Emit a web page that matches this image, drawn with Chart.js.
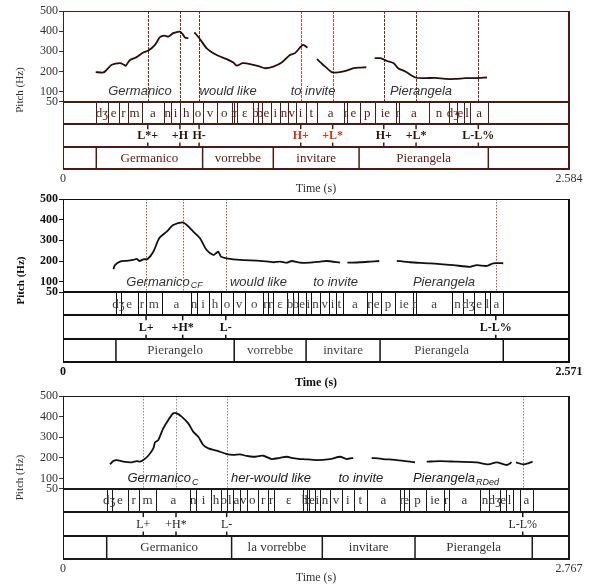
<!DOCTYPE html>
<html><head><meta charset="utf-8">
<script src="https://cdn.jsdelivr.net/npm/chart.js@4.4.0/dist/chart.umd.min.js"></script>
<style>
html,body{margin:0;padding:0;background:#fff;width:589px;height:585px;overflow:hidden}
.p{position:absolute;left:0;width:589px}
</style></head><body>
<div class="p" style="top:0;height:196px"><canvas id="c1"></canvas></div>
<div class="p" style="top:190px;height:200px"><canvas id="c2"></canvas></div>
<div class="p" style="top:385px;height:200px"><canvas id="c3"></canvas></div>
<script>
// ---------- Panel 1 data ----------
const p1Time = [0.167,0.206,0.220,0.249,0.291,0.312,0.320,0.342,0.376,0.410,0.436,0.470,0.495,0.517,0.538,0.563,0.597,0.611,0.623,0.640,0.655,
  0.671,0.700,0.734,0.785,0.836,0.870,0.887,0.918,0.972,1.006,1.032,1.074,1.117,1.159,1.185,1.214,1.227,1.248,1.270,
  1.297,1.339,1.377,1.433,1.485,1.510,1.549,1.570,
  1.592,1.620,1.655,1.689,1.711,1.748,1.799,1.850,1.901,1.952,2.003,2.054,2.106,2.165];
const p1Hz = [197,195,205,233,241,233,228,257,271,294,304,332,370,378,373,390,398,385,368,365,null,
  394,360,315,282,261,244,229,241,233,224,216,224,244,282,291,323,332,318,null,
  261,224,195,200,216,219,221,null,
  266,266,252,241,216,200,170,167,168,163,163,167,167,170];
const p1SegT = [0.169,0.228,0.288,0.330,0.402,0.517,0.552,0.597,0.662,0.716,0.785,0.862,0.875,0.887,0.969,0.996,1.016,1.061,1.108,1.149,1.188,1.239,1.297,1.437,1.450,1.515,1.592,1.701,1.717,1.868,1.973,2.010,2.049,2.078,2.172];
const p1Seg = ['dʒ','e','r','m','a','n','i','h','o','v','o','r','r','ɛ','b','b','e','i','n','v','i','t','a','r','e','p','ie','r','a','n','dʒ','e','l','a'];
const p1WordT = [0.170,0.713,1.074,1.512,2.172];
const p1Words = ['Germanico','vorrebbe','invitare','Pierangela'];
const p1ToneT = [0.433,0.597,0.695,1.214,1.377,1.638,1.803,2.121];
const p1Tones = ['L*+','+H','H-','H+','+L*','H+','+L*','L-L%'];
const p1Gloss = ['Germanico','would like','to invite','Pierangela'];
const p1GlossSub = ['','','',''];
const p1GlossT = [0.393,0.843,1.277,1.828];

// ---------- Panel 2 data ----------
const p2Time = [0.256,0.264,0.290,0.324,0.357,0.374,0.388,0.408,0.430,0.459,0.489,0.527,0.560,0.608,0.629,0.662,0.696,0.730,0.764,0.777,0.789,0.803,0.832,0.899,1.001,1.069,1.103,1.137,1.162,1.204,1.255,1.306,1.340,1.407,1.425,
  1.445,1.509,1.560,1.607,1.650,
  1.696,1.763,1.865,1.983,2.068,2.102,2.153,2.186,2.237];
const p2Hz = [161,180,197,201,205,210,200,208,210,245,310,342,374,387,374,342,310,253,229,237,245,221,213,205,201,194,197,192,200,192,192,197,200,192,null,
  192,194,197,200,null,
  201,194,189,180,172,180,176,189,189];
const p2SegT = [0.269,0.293,0.380,0.422,0.501,0.650,0.681,0.742,0.803,0.864,0.925,1.018,1.040,1.069,1.137,1.170,1.196,1.233,1.259,1.306,1.353,1.387,1.421,1.545,1.570,1.616,1.687,1.778,1.794,1.977,2.032,2.087,2.143,2.168,2.236];
const p2Seg = ['dʒ','e','r','m','a','n','i','h','o','v','o','r','r','ɛ','b','b','e','i','n','v','i','t','a','r','e','p','ie','r','a','n','dʒ','e','l','a'];
const p2WordT = [0.269,0.870,1.235,1.611,2.237];
const p2Words = ['Pierangelo','vorrebbe','invitare','Pierangela'];
const p2ToneT = [0.422,0.608,0.827,2.199];
const p2Tones = ['L+','+H*','L-','L-L%'];
const p2Gloss = ['Germanico','would like','to invite','Pierangela'];
const p2GlossSub = ['CF','','',''];
const p2GlossT = [0.516,0.993,1.385,1.936];

// ---------- Panel 3 data ----------
const p3Time = [0.257,0.275,0.294,0.330,0.376,0.403,0.421,0.439,0.466,0.494,0.503,0.521,0.548,0.576,0.603,0.622,0.649,0.685,0.712,0.740,0.767,0.795,0.840,0.895,0.931,0.968,1.004,1.041,1.095,1.141,1.187,1.223,1.259,1.296,1.314,1.387,1.460,1.515,1.551,1.587,1.640,
  1.688,1.751,1.825,1.925,1.960,
  1.989,2.061,2.153,2.262,2.326,2.371,2.426,2.453,2.465,
  2.477,2.517,2.544,2.568];
const p3Hz = [168,184,189,181,178,184,181,189,210,246,275,286,343,384,416,416,400,367,327,302,262,246,235,218,214,217,209,205,210,194,200,205,198,194,194,189,194,205,194,200,null,
  200,194,189,178,null,
  181,184,181,178,168,178,165,178,null,
  178,168,173,181];
const p3SegT = [0.239,0.266,0.357,0.417,0.509,0.697,0.727,0.809,0.864,0.895,0.928,0.968,1.004,1.065,1.123,1.154,1.314,1.333,1.347,1.376,1.405,1.460,1.526,1.590,1.662,1.841,1.863,1.890,1.987,2.082,2.109,2.282,2.332,2.390,2.424,2.461,2.501,2.568];
const p3Seg = ['dʒ','e','r','m','a','n','i','h','o','l','a','v','o','r','r','ɛ','b','b','e','i','n','v','i','t','a','r','e','p','ie','r','a','n','dʒ','e','l','','a'];
const p3WordT = [0.239,0.922,1.418,1.925,2.566];
const p3Words = ['Germanico','la vorrebbe','invitare','Pierangela'];
const p3ToneT = [0.439,0.618,0.895,2.514];
const p3Tones = ['L+','+H*','L-','L-L%'];
const p3Gloss = ['Germanico','her-would like','to invite','Pierangela'];
const p3GlossSub = ['C','','','RDed'];
const p3GlossT = [0.547,1.137,1.629,2.149];

const yTicks = [50,100,200,300,400,500];

const SERIF = '"Liberation Serif", "DejaVu Serif", serif';
const SANS = '"Liberation Sans", Arial, sans-serif';

const panels = [
  {id:'c1', H:196, top:11, pitchBottom:101.7, bottom:169, dur:2.584, durLabel:'2.584',
   time:p1Time, hz:p1Hz, segT:p1SegT, seg:p1Seg, wordT:p1WordT, words:p1Words, toneT:p1ToneT, tones:p1Tones,
   gloss:p1Gloss, glossSub:p1GlossSub, glossT:p1GlossT, hl:[3,4], dash:[3,1],
   bold:false, toneBold:true, lineCol:'#2a0e08', border:'#4a1c14', segText:'#5a2016', toneText:'#2e120c', hlText:'#d4361c',
   vline:'#7a2a20', hlLine:'#e2452a', tickCol:'#333', axisText:'#333', glossCol:'#333', titlePad:14},
  {id:'c2', H:200, top:9, pitchBottom:102, bottom:172, dur:2.571, durLabel:'2.571',
   time:p2Time, hz:p2Hz, segT:p2SegT, seg:p2Seg, wordT:p2WordT, words:p2Words, toneT:p2ToneT, tones:p2Tones,
   gloss:p2Gloss, glossSub:p2GlossSub, glossT:p2GlossT, hl:[], dash:[1.5,1.5],
   bold:true, toneBold:true, lineCol:'#111', border:'#111', segText:'#444', toneText:'#111', hlText:'#111',
   vline:'#b84a44', hlLine:'#b84a44', tickCol:'#111', axisText:'#111', glossCol:'#333', titlePad:15},
  {id:'c3', H:200, top:11, pitchBottom:103.7, bottom:174, dur:2.767, durLabel:'2.767',
   time:p3Time, hz:p3Hz, segT:p3SegT, seg:p3Seg, wordT:p3WordT, words:p3Words, toneT:p3ToneT, tones:p3Tones,
   gloss:p3Gloss, glossSub:p3GlossSub, glossT:p3GlossT, hl:[], dash:[1.5,1.5],
   bold:false, toneBold:false, lineCol:'#111', border:'#1a1a1a', segText:'#333', toneText:'#222', hlText:'#222',
   vline:'#8a8a8a', hlLine:'#8a8a8a', tickCol:'#333', axisText:'#333', glossCol:'#222', titlePad:14}
];

function cr(v){ return Math.round(v) + 0.5; }

function makePlugin(P){
  return {
    id:'praat_'+P.id,
    beforeDatasetsDraw(chart){
      const ctx = chart.ctx, a = chart.chartArea, xs = chart.scales.x, ys = chart.scales.y;
      const y50 = ys.getPixelForValue(50);
      ctx.save();
      ctx.lineWidth = 1;
      ctx.setLineDash(P.dash);
      P.toneT.forEach((t,i)=>{
        const x = cr(xs.getPixelForValue(t));
        ctx.strokeStyle = P.hl.includes(i) ? P.hlLine : P.vline;
        ctx.beginPath(); ctx.moveTo(x, a.top); ctx.lineTo(x, y50); ctx.stroke();
      });
      ctx.restore();
    },
    afterDatasetsDraw(chart){
      const ctx = chart.ctx, a = chart.chartArea, xs = chart.scales.x, ys = chart.scales.y;
      const y50 = ys.getPixelForValue(50);
      const rh = (a.bottom - y50)/3;
      const r0 = y50, r1 = y50+rh, r2 = y50+2*rh, r3 = a.bottom;
      ctx.save();
      ctx.strokeStyle = P.border;
      // segment boundaries
      ctx.lineWidth = 1;
      P.segT.forEach(t=>{
        const x = cr(xs.getPixelForValue(t));
        ctx.beginPath(); ctx.moveTo(x, r0); ctx.lineTo(x, r1); ctx.stroke();
      });
      ctx.font = '13px ' + SERIF;
      ctx.fillStyle = P.segText;
      ctx.textAlign = 'center'; ctx.textBaseline = 'middle';
      P.seg.forEach((s,i)=>{
        if(!s) return;
        const x0 = xs.getPixelForValue(P.segT[i]), x1 = xs.getPixelForValue(P.segT[i+1]);
        ctx.fillText(s, (x0+x1)/2, (r0+r1)/2 + 0.5);
      });
      // tone ticks + labels
      ctx.lineWidth = 1.5;
      P.toneT.forEach(t=>{
        const x = xs.getPixelForValue(t);
        ctx.beginPath(); ctx.moveTo(x, r1); ctx.lineTo(x, r1+5); ctx.stroke();
        ctx.beginPath(); ctx.moveTo(x, r2-4); ctx.lineTo(x, r2); ctx.stroke();
      });
      ctx.font = (P.toneBold ? 'bold ' : '') + '12px ' + SERIF;
      P.tones.forEach((s,i)=>{
        ctx.fillStyle = P.hl.includes(i) ? P.hlText : P.toneText;
        ctx.fillText(s, xs.getPixelForValue(P.toneT[i]), (r1+r2)/2 + 0.5);
      });
      // word boundaries + labels
      ctx.lineWidth = 1.5;
      P.wordT.forEach(t=>{
        const x = xs.getPixelForValue(t);
        ctx.beginPath(); ctx.moveTo(x, r2); ctx.lineTo(x, r3); ctx.stroke();
      });
      ctx.font = '13px ' + SERIF;
      ctx.fillStyle = P.segText;
      P.words.forEach((s,i)=>{
        const x0 = xs.getPixelForValue(P.wordT[i]), x1 = xs.getPixelForValue(P.wordT[i+1]);
        ctx.fillText(s, (x0+x1)/2, (r2+r3)/2 + 0.5);
      });
      // horizontal tier lines
      ctx.lineWidth = 2;
      [r0, r1, r2].forEach(y=>{
        ctx.beginPath(); ctx.moveTo(a.left, Math.round(y)); ctx.lineTo(a.right, Math.round(y)); ctx.stroke();
      });
      // frame
      ctx.lineWidth = 1;
      ctx.strokeRect(cr(a.left), cr(a.top), Math.round(a.right - a.left) - 1, Math.round(a.bottom - a.top));
      ctx.lineWidth = 2;
      ctx.beginPath(); ctx.moveTo(Math.round(a.right), a.top); ctx.lineTo(Math.round(a.right), a.bottom+1); ctx.stroke();
      ctx.beginPath(); ctx.moveTo(a.left, Math.round(a.bottom)); ctx.lineTo(a.right+1, Math.round(a.bottom)); ctx.stroke();
      // gloss labels
      ctx.fillStyle = P.glossCol;
      ctx.textAlign = 'left'; ctx.textBaseline = 'alphabetic';
      const fMain = 'italic 13px ' + SANS, fSub = 'italic 9px ' + SANS;
      P.gloss.forEach((s,i)=>{
        ctx.font = fMain; const w1 = ctx.measureText(s).width;
        ctx.font = fSub; const w2 = P.glossSub[i] ? ctx.measureText(P.glossSub[i]).width + 1 : 0;
        const cx = xs.getPixelForValue(P.glossT[i]);
        const x0 = cx - (w1 + w2)/2, yb = y50 - 11 + 4.5;
        ctx.font = fMain; ctx.fillText(s, x0, yb);
        if (P.glossSub[i]) { ctx.font = fSub; ctx.fillText(P.glossSub[i], x0 + w1 + 1, yb + 2.5); }
      });
      ctx.restore();
    }
  };
}

panels.forEach(P=>{
  const ymin = 50 - 450*(P.bottom - P.pitchBottom)/(P.pitchBottom - P.top);
  const fw = P.bold ? 'bold' : 'normal';
  new Chart(document.getElementById(P.id), {
    type:'line',
    data:{ datasets:[{
      data: P.time.map((t,i)=>({x:t, y:P.hz[i]})),
      borderColor:P.lineCol, borderWidth:1.8, pointRadius:0, tension:0.25, spanGaps:false, fill:false
    }]},
    options:{
      responsive:true, maintainAspectRatio:false, animation:false,
      layout:{padding:{left:0, right:20, top:P.top, bottom:0}},
      plugins:{legend:{display:false}, tooltip:{enabled:false}},
      scales:{
        x:{ type:'linear', min:0, max:P.dur,
            afterBuildTicks(s){ s.ticks = [{value:0},{value:P.dur}]; },
            afterFit(s){ s.height = P.H - P.bottom; },
            grid:{display:false, drawTicks:false, tickLength:0}, border:{display:false},
            ticks:{ autoSkip:false, maxRotation:0, padding:3, color:P.axisText,
                    font:{family:SERIF, size:12, weight:fw},
                    callback:(v)=> v===0 ? '0' : P.durLabel },
            title:{ display:true, text:'Time (s)', color:P.axisText, padding:{top:0,bottom:0},
                    font:{family:SERIF, size:12, weight:fw} } },
        y:{ type:'linear', min:ymin, max:500,
            afterBuildTicks(s){ s.ticks = yTicks.map(v=>({value:v})); },
            afterFit(s){ s.width = 63; },
            grid:{drawOnChartArea:false, drawTicks:true, tickLength:4, color:P.tickCol, lineWidth:1},
            border:{display:false},
            ticks:{ autoSkip:false, padding:1, color:P.axisText, font:{family:SERIF, size:12, weight:fw} },
            title:{ display:true, text:'Pitch (Hz)', color:P.axisText, padding:{top:P.titlePad,bottom:0},
                    font:{family:SERIF, size:11, weight:fw} } }
      }
    },
    plugins:[makePlugin(P)]
  });
});
</script>
</body></html>
